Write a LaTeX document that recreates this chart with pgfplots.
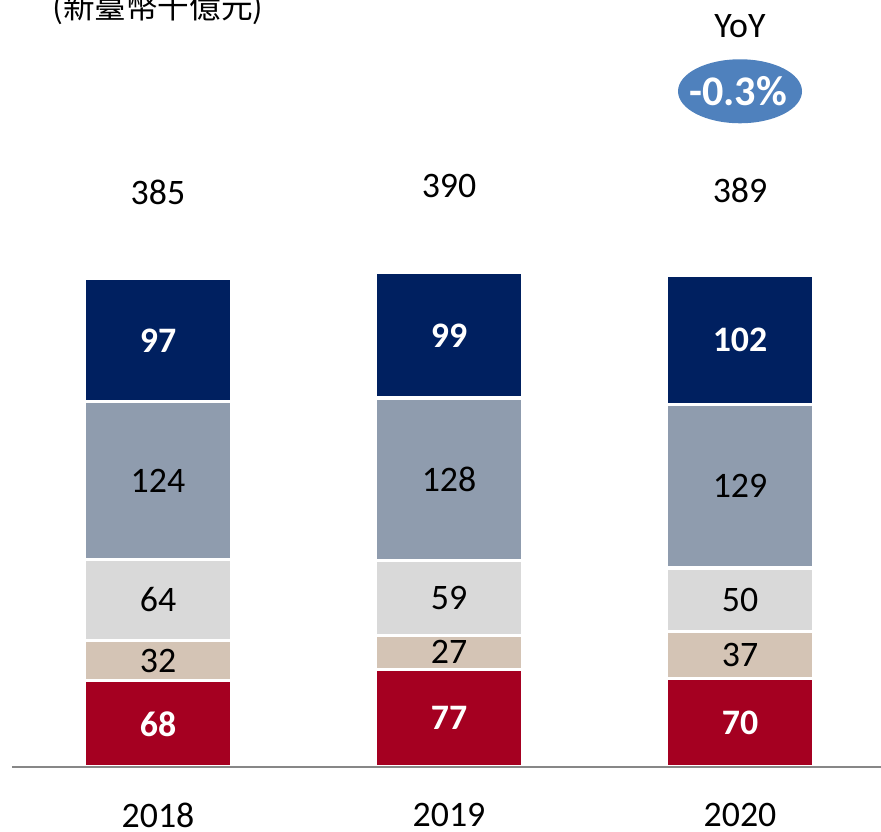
\documentclass[border=0pt]{standalone}
\usepackage{fontspec}
\setmainfont{Carlito}
\newfontfamily\cjk{Noto Sans CJK TC}
\usepackage{pgfplots}
\usepackage{pgfplotstable}
\pgfplotsset{compat=1.18}
\definecolor{cNavy}{HTML}{002060}
\definecolor{cSlate}{HTML}{8F9CAE}
\definecolor{cLight}{HTML}{D9D9D9}
\definecolor{cTan}{HTML}{D4C4B5}
\definecolor{cRed}{HTML}{A50021}
\definecolor{cBlue}{HTML}{4F81BD}
\definecolor{cAxis}{HTML}{878787}
\pgfplotstableread{
x a b c d e
0 68 32 64 124 97
1 77 27 59 128 99
2 70 37 50 129 102
}\data
\pgfplotstableread{
x y label
0 34 68
0 336.5 97
1 38.5 77
1 340.5 99
2 35 70
2 337 102
}\whitelabels
\pgfplotstableread{
x y label
0 84 32
0 132 64
0 226 124
1 90.5 27
1 133.5 59
1 227 128
2 88.5 37
2 132 50
2 221.5 129
0 453.5 385
1 458 390
2 455 389
}\blacklabels
\pgfplotsset{
  base/.style={
    scale only axis,
    width=8.69cm, height=7.67cm,
    xmin=-0.5017, xmax=2.4845,
    ymin=0, ymax=605,
    clip=false,
    /tikz/font=\fontsize{10.2}{12}\selectfont,
  }
}
\begin{document}
\begin{tikzpicture}
\path[use as bounding box] (-0.12cm,-0.64cm) rectangle (8.69cm,7.67cm);
\begin{axis}[
  base,
  hide axis,
  ybar stacked,
  bar width=1.47cm,
]
\addplot[fill=cRed, draw=white, line width=0.9pt] table[x=x,y=a] {\data};
\addplot[fill=cTan, draw=white, line width=0.9pt] table[x=x,y=b] {\data};
\addplot[fill=cLight, draw=white, line width=0.9pt] table[x=x,y=c] {\data};
\addplot[fill=cSlate, draw=white, line width=0.9pt] table[x=x,y=d] {\data};
\addplot[fill=cNavy, draw=white, line width=0.9pt] table[x=x,y=e] {\data};
\fill[cBlue] (axis cs:2,533) ellipse [x radius=0.62cm, y radius=0.32cm];
\end{axis}
\begin{axis}[
  base,
  axis x line*=bottom,
  axis y line=none,
  x axis line style={draw=cAxis, line width=0.8pt},
  xtick={0,1,2},
  xticklabels={2018,2019,2020},
  xtick style={draw=none},
  xticklabel style={anchor=center, yshift=-0.48cm},
  ytick=\empty,
]
\addplot[draw=none, mark=none, nodes near coords, point meta=explicit symbolic,
  every node near coord/.style={anchor=center, text=white, font=\fontsize{10.2}{12}\selectfont\bfseries}]
  table[x=x, y=y, meta=label] {\whitelabels};
\addplot[draw=none, mark=none, nodes near coords, point meta=explicit symbolic,
  every node near coord/.style={anchor=center, text=black, font=\fontsize{10.2}{12}\selectfont}]
  table[x=x, y=y, meta=label] {\blacklabels};
% YoY
\node at (axis cs:2,584) {YoY};
\node[text=white, font=\fontsize{12}{14}\selectfont\bfseries] at (axis cs:1.993,533.5) {-0.3\%};
% unit
\node[font=\cjk\fontsize{9}{11}\selectfont] at (axis cs:0,598.5) {(新臺幣千億元)};
\end{axis}
\end{tikzpicture}
\end{document}
